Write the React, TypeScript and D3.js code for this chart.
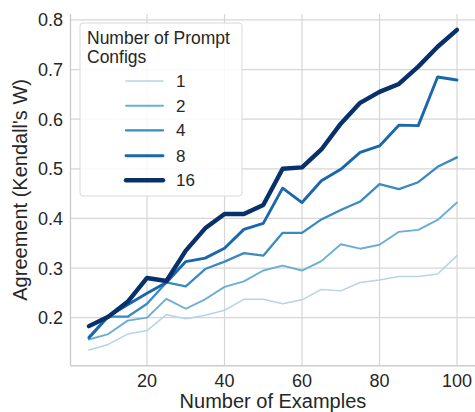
import React from "react";
import * as d3 from "d3";

// Number of in-context examples on the x axis
const examples = [5, 10, 15, 20, 25, 30, 35, 40, 45, 50, 55, 60, 65, 70, 75, 80, 85, 90, 95, 100];

// Agreement (Kendall's W) per number of prompt configs
const configs = ["1", "2", "4", "8", "16"];
const w1 = [0.135, 0.146, 0.167, 0.174, 0.206, 0.198, 0.205, 0.215, 0.237, 0.237, 0.228, 0.236, 0.257, 0.254, 0.271, 0.276, 0.283, 0.283, 0.288, 0.325];
const w2 = [0.156, 0.167, 0.194, 0.200, 0.238, 0.218, 0.237, 0.262, 0.273, 0.295, 0.305, 0.295, 0.314, 0.348, 0.339, 0.347, 0.373, 0.377, 0.397, 0.432];
const w4 = [0.158, 0.202, 0.202, 0.228, 0.271, 0.263, 0.298, 0.313, 0.330, 0.325, 0.371, 0.371, 0.398, 0.417, 0.434, 0.469, 0.459, 0.473, 0.504, 0.523];
const w8 = [0.160, 0.203, 0.226, 0.249, 0.271, 0.313, 0.320, 0.340, 0.378, 0.390, 0.461, 0.432, 0.476, 0.499, 0.533, 0.546, 0.588, 0.587, 0.685, 0.679];
const w16 = [0.183, 0.202, 0.232, 0.280, 0.274, 0.335, 0.380, 0.409, 0.409, 0.427, 0.500, 0.503, 0.539, 0.591, 0.633, 0.655, 0.671, 0.706, 0.746, 0.780];
const seriesValues = [w1, w2, w4, w8, w16];

const xTicks = [20, 40, 60, 80, 100];
const yTicks = [0.2, 0.3, 0.4, 0.5, 0.6, 0.7, 0.8];

const colors = ["#b5d4e9", "#6aaed6", "#3a8ac2", "#1a67ae", "#08306b"];
const widths = [1.5, 1.9, 2.3, 2.9, 4.4];

const W = 475;
const H = 412;
const FONT = "Arial, 'Liberation Sans', sans-serif";
const TEXT = "#262626";
const GRID = "#d6d6d6";

export default function App() {
  const x = d3.scaleLinear().domain([0.25, 104.75]).range([70.5, 475.4]);
  const y = d3.scaleLinear().domain([0.103, 0.812]).range([365.8, 14]);
  const left = x(0.25);
  const right = x(104.75);
  const top = y(0.812);
  const bottom = y(0.103);

  const line = d3
    .line<number>()
    .x((_, i) => x(examples[i]))
    .y((v) => y(v));

  const lgX = 80;
  const lgY = 23;
  const lgW = 162;
  const lgH = 173;
  const rowY = [81, 105.7, 130.3, 155.7, 180.3];

  return (
    <svg
      width={W}
      height={H}
      style={{ position: "absolute", left: 0, top: 0, background: "#fff" }}
      fontFamily={FONT}
    >
      <rect x={0} y={0} width={W} height={H} fill="#fff" />
      {/* grid */}
      {xTicks.map((t) => (
        <line key={"gx" + t} x1={x(t)} x2={x(t)} y1={top} y2={bottom} stroke={GRID} strokeWidth={1.2} />
      ))}
      {yTicks.map((t) => (
        <line key={"gy" + t} x1={left} x2={right} y1={y(t)} y2={y(t)} stroke={GRID} strokeWidth={1.2} />
      ))}
      {/* spines */}
      <line x1={left} x2={left} y1={top} y2={bottom} stroke="#cccccc" strokeWidth={1.4} />
      <line x1={left} x2={right} y1={bottom} y2={bottom} stroke="#cccccc" strokeWidth={1.4} />

      {/* series */}
      {seriesValues.map((vals, i) => (
        <path
          key={configs[i]}
          d={line(vals) || ""}
          fill="none"
          stroke={colors[i]}
          strokeWidth={widths[i]}
          strokeLinejoin="round"
          strokeLinecap="round"
        />
      ))}

      {/* tick labels */}
      {xTicks.map((t) => (
        <text key={"tx" + t} x={x(t)} y={386.5} textAnchor="middle" fontSize={18} fill={TEXT}>
          {t}
        </text>
      ))}
      {yTicks.map((t) => (
        <text key={"ty" + t} x={63} y={y(t) + 6.5} textAnchor="end" fontSize={18} fill={TEXT}>
          {t.toFixed(1)}
        </text>
      ))}

      {/* axis titles */}
      <text x={(left + right) / 2} y={407.5} textAnchor="middle" fontSize={20} fill={TEXT}>
        Number of Examples
      </text>
      <text
        transform={`translate(27, ${(top + bottom) / 2}) rotate(-90)`}
        textAnchor="middle"
        fontSize={20}
        fill={TEXT}
      >
        Agreement (Kendall's W)
      </text>

      {/* legend */}
      <rect
        x={lgX}
        y={lgY}
        width={lgW}
        height={lgH}
        rx={3}
        fill="#fff"
        fillOpacity={0.85}
        stroke="#d9d9d9"
        strokeWidth={1}
      />
      <text x={87} y={43.5} fontSize={17.5} fill={TEXT}>
        Number of Prompt
      </text>
      <text x={87} y={62.5} fontSize={17.5} fill={TEXT}>
        Configs
      </text>
      {configs.map((c, i) => (
        <g key={"lg" + c}>
          <line
            x1={126}
            x2={163}
            y1={rowY[i]}
            y2={rowY[i]}
            stroke={colors[i]}
            strokeWidth={widths[i]}
            strokeLinecap="round"
          />
          <text x={176} y={rowY[i] + 6} fontSize={17} fill={TEXT}>
            {c}
          </text>
        </g>
      ))}
    </svg>
  );
}
